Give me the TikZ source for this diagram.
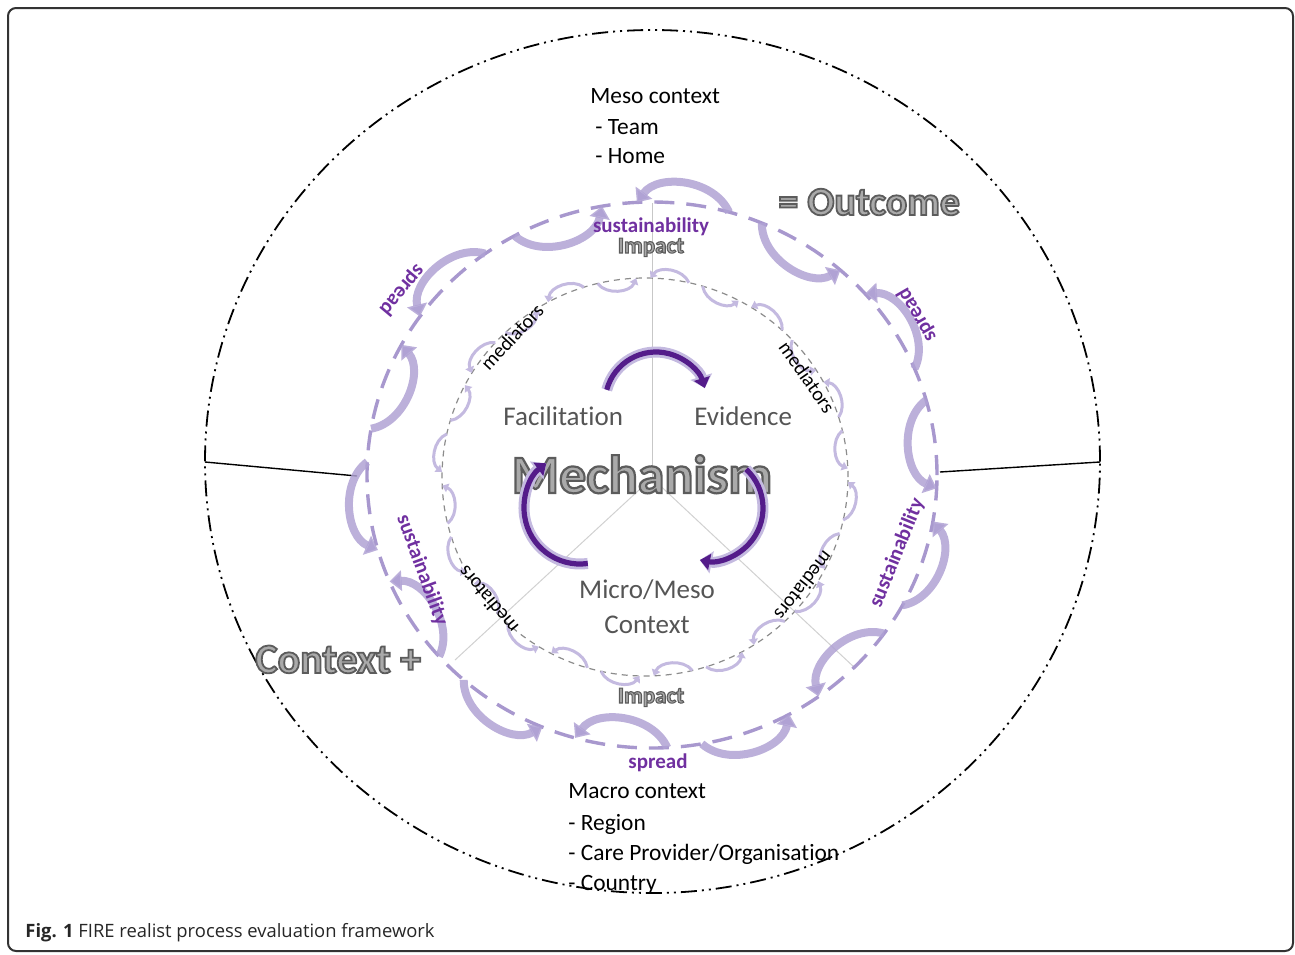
\documentclass[tikz,border=0pt]{standalone}
\usepackage{fontspec}
\setmainfont{Carlito}[Ligatures=NoCommon]
\newfontfamily\capfont{Open Sans}
\usetikzlibrary{arrows.meta,calc}

\definecolor{lav}{RGB}{176,162,212}
\definecolor{lavpale}{RGB}{196,186,224}
\definecolor{ringlav}{RGB}{168,152,206}
\definecolor{fireppl}{RGB}{112,48,160}
\definecolor{cycppl}{RGB}{84,28,138}
\definecolor{labgrey}{RGB}{85,85,85}
\definecolor{glowfill}{RGB}{170,170,170}

% grey letters with a dark rim (fill + stroke render mode)
\newcommand{\glow}[2]{\textcolor{glowfill}{\special{pdf:literal direct 2 Tr #1 w 0.36 0.36 0.36 RG}#2\special{pdf:literal direct 0 Tr}}}

\tikzset{
  ringarrow/.style={draw=lav, line width=4pt, draw opacity=.85, -{Triangle[width=10pt,length=6pt]}},
  smallarrow/.style={draw=lavpale, line width=1.5pt, -{Triangle[width=4.5pt,length=3pt]}},
  cyclearrow/.style={draw=cycppl, line width=2.6pt, -{Triangle[width=8pt,length=5pt]}},
  cycleglow/.style={draw=lavpale, line width=5.5pt, -{Triangle[width=11pt,length=6pt]}},
  ctxtext/.style={font=\fontsize{11.7}{15}\selectfont, inner sep=0pt, anchor=base west},
  cornertext/.style={font=\fontsize{13.5}{17.5}\selectfont, text=labgrey, inner sep=0pt},
  ringtext/.style={font=\fontsize{10.5}{12}\selectfont\bfseries, text=fireppl, inner sep=0pt},
  medtext/.style={font=\fontsize{10}{12}\selectfont, inner sep=0pt},
  glowtext/.style={inner sep=0pt}
}

\begin{document}
\begin{tikzpicture}[x=0.5pt, y=0.5pt]
\useasboundingbox (0,0) rectangle (1295,-954);

% frame
\draw[line width=1pt, draw=black!80, rounded corners=4pt] (8,-8) rectangle (1293,-951);

% outer boundary and dividers
\draw[line width=0.9pt, dash pattern=on 8pt off 2.5pt on 1pt off 2.5pt on 1pt off 2.5pt]
  (652.5,-461.5) ellipse[x radius=447.5, y radius=431.5];
\coordinate (lw) at (205,-462);
\coordinate (le) at (357,-476);
\coordinate (rw) at (940,-472);
\coordinate (re) at (1100,-462);
\draw[line width=0.7pt] (lw) -- (le);
\draw[line width=0.7pt] (rw) -- (re);

% spokes
\coordinate (hub) at (652,-478);
\draw[draw=black!22, line width=0.5pt] (hub) -- (652,-203);
\draw[draw=black!18, line width=0.5pt] (hub) -- (455,-660);
\draw[draw=black!18, line width=0.5pt] (hub) -- (855,-668);

% outer ring
\draw[draw=ringlav, line width=1.7pt, dash pattern=on 10pt off 6pt]
  (652,-475) ellipse[x radius=285, y radius=273];
\foreach \k in {0,...,13}{
  \pgfmathsetmacro\a{96.6+25.71*\k+3.5}
  \pgfmathsetmacro\b{96.6+25.71*(\k+1)-3.5}
  \ifodd\k
    \draw[ringarrow] ({652+285*cos(\a)},{-475+273*sin(\a)}) to[bend right=60] ({652+285*cos(\b)},{-475+273*sin(\b)});
  \else
    \draw[ringarrow] ({652+285*cos(\b)},{-475+273*sin(\b)}) to[bend right=60] ({652+285*cos(\a)},{-475+273*sin(\a)});
  \fi
}

% inner ring
\draw[draw=black!45, line width=0.6pt, dash pattern=on 3pt off 2.5pt]
  (645,-477) ellipse[x radius=203, y radius=199];
\foreach \k in {0,...,23}{
  \pgfmathsetmacro\a{90.5+15*\k+2}
  \pgfmathsetmacro\b{90.5+15*(\k+1)-2}
  \ifodd\k
    \draw[smallarrow] ({645+203*cos(\a)},{-477+199*sin(\a)}) to[bend right=60] ({645+203*cos(\b)},{-477+199*sin(\b)});
  \else
    \draw[smallarrow] ({645+203*cos(\b)},{-477+199*sin(\b)}) to[bend right=60] ({645+203*cos(\a)},{-477+199*sin(\a)});
  \fi
}

% context texts
\node[ctxtext] (meso1) at (590,-103) {Meso context};
\node[ctxtext] (meso2) at (595,-134) {- Team};
\node[ctxtext] (meso3) at (595,-163) {- Home};
\node[ctxtext] (macro1) at (568,-798) {Macro context};
\node[ctxtext] (macro2) at (568,-830) {- Region};
\node[ctxtext] (macro3) at (568,-860) {- Care Provider/Organisation};
\node[ctxtext] (macro4) at (568,-890) {- Country};

% big labels
\node[glowtext, anchor=base west] (outcome) at (778,-215) {\fontsize{20}{24}\selectfont\bfseries\glow{0.9}{= Outcome}};
\node[glowtext, anchor=base west] (context) at (255,-673) {\fontsize{21}{24}\selectfont\bfseries\glow{0.9}{Context +}};
\node[glowtext, anchor=base] (mech) at (642,-493) {\fontsize{27}{30}\selectfont\bfseries\glow{1.1}{Mechanism}};
\node[glowtext, anchor=base] (imptop) at (651,-253) {\fontsize{11.5}{13}\selectfont\bfseries\glow{0.55}{Impact}};
\node[glowtext, anchor=base] (impbot) at (651,-703) {\fontsize{11.5}{13}\selectfont\bfseries\glow{0.55}{Impact}};

% inner labels
\node[cornertext, anchor=base west] (facil) at (503,-425) {Facilitation};
\node[cornertext, anchor=base west] (evid) at (694,-425) {Evidence};
\node[cornertext, anchor=base] (micro) at (647,-598) {Micro/Meso};
\node[cornertext, anchor=base] (microctx) at (647,-633) {Context};

% ring labels
\node[ringtext, anchor=base] (sustop) at (651,-232) {sustainability};
\node[ringtext, anchor=base] (sprbot) at (658,-768) {spread};
\node[ringtext, rotate=230] (sprul) at (402,-290) {spread};
\node[ringtext, rotate=120] (sprur) at (917,-315) {spread};
\node[ringtext, rotate=-70] (susl) at (422,-570) {sustainability};
\node[ringtext, rotate=68] (susr) at (897,-553) {sustainability};

\node[medtext, rotate=47] (medul) at (512,-337) {mediators};
\node[medtext, rotate=-55] (medur) at (807,-377) {mediators};
\node[medtext, rotate=130] (medll) at (488,-600) {mediators};
\node[medtext, rotate=232] (medlr) at (804,-586) {mediators};

% cycle arrows
\draw[cycleglow] (656,-403) ++(165:51) arc[start angle=165, end angle=17, radius=51];
\draw[cyclearrow] (656,-403) ++(165:51) arc[start angle=165, end angle=17, radius=51];
\draw[cycleglow] (710,-508) ++(47:53) arc[start angle=47, end angle=-101, radius=53];
\draw[cyclearrow] (710,-508) ++(47:53) arc[start angle=47, end angle=-101, radius=53];
\draw[cycleglow] (580,-508) ++(278:56) arc[start angle=278, end angle=127, radius=56];
\draw[cyclearrow] (580,-508) ++(278:56) arc[start angle=278, end angle=127, radius=56];

% caption
\node[anchor=base west, inner sep=0pt, font=\capfont\fontsize{9.2}{11}\selectfont, text=black!85] (caption) at (25,-937)
  {\textbf{Fig. 1} FIRE realist process evaluation framework};
\end{tikzpicture}
\end{document}
